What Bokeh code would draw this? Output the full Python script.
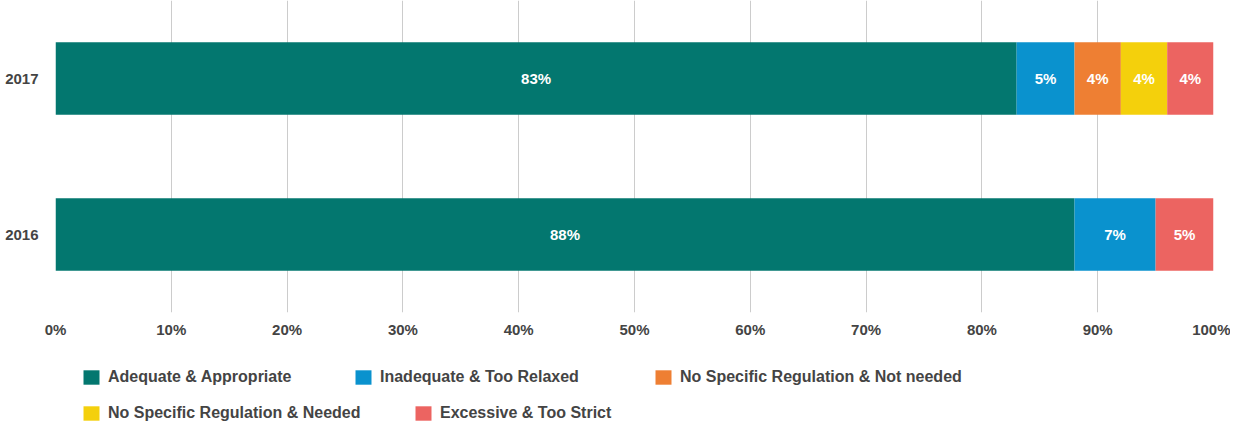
from bokeh.plotting import figure
from bokeh.layouts import column
from bokeh.models import (ColumnDataSource, FactorRange, Range1d, Legend, LegendItem,
                          FixedTicker, PrintfTickFormatter)
from bokeh.core.properties import value
from bokeh.embed import file_html
from bokeh.resources import INLINE

# ---- data ----
years = ["2016", "2017"]
series_names = ["Adequate & Appropriate", "Inadequate & Too Relaxed",
                "No Specific Regulation & Not needed", "No Specific Regulation & Needed",
                "Excessive & Too Strict"]
adequate = [88, 83]
inadequate = [7, 5]
not_needed = [0, 4]
needed = [0, 4]
excessive = [5, 4]
x_ticks = [0, 10, 20, 30, 40, 50, 60, 70, 80, 90, 100]

colors = ["#03776F", "#0A92CE", "#EE7F33", "#F4D00C", "#EC6461"]
keys = ["adequate", "inadequate", "not_needed", "needed", "excessive"]
FONT = "Liberation Sans"
GREY = "#444444"

src = ColumnDataSource(dict(year=years, adequate=adequate, inadequate=inadequate,
                            not_needed=not_needed, needed=needed, excessive=excessive))

# ---- main chart ----
p = figure(width=1230, height=340, output_backend="svg", toolbar_location=None,
           y_range=FactorRange(*years, range_padding=0), x_range=Range1d(0, 100),
           min_border_left=55, min_border_right=17, min_border_top=0, min_border_bottom=27)

renderers = p.hbar_stack(keys, y="year", height=0.465, color=colors, source=src, line_color=None)

vals = [adequate, inadequate, not_needed, needed, excessive]
lx, ly, lt = [], [], []
for i, yr in enumerate(years):
    left = 0
    for s in vals:
        v = s[i]
        if v > 0:
            lx.append(left + v / 2)
            ly.append(yr)
            lt.append(f"{v}%")
        left += v
p.text(x=lx, y=ly, text=lt, text_color="white", text_font=value(FONT),
       text_font_style="bold", text_font_size="15px", text_align="center",
       text_baseline="middle")

p.outline_line_color = None
p.ygrid.grid_line_color = None
p.xgrid.grid_line_color = "#cccccc"
p.xgrid.grid_line_width = 1
p.xaxis.ticker = FixedTicker(ticks=x_ticks)
p.xaxis.formatter = PrintfTickFormatter(format="%d%%")
for ax in (p.xaxis[0], p.yaxis[0]):
    ax.axis_line_color = None
    ax.major_tick_line_color = None
    ax.minor_tick_line_color = None
    ax.major_tick_out = 0
    ax.major_tick_in = 0
    ax.major_label_text_font = FONT
    ax.major_label_text_font_style = "bold"
    ax.major_label_text_font_size = "15px"
    ax.major_label_text_color = GREY
p.xaxis.major_label_standoff = 8
p.yaxis.major_label_standoff = 17

# ---- legend strip (same series, hidden renderers only supply the swatches) ----
lf = figure(width=1230, height=84, output_backend="svg", toolbar_location=None,
            y_range=FactorRange(*years), x_range=Range1d(0, 100),
            x_axis_location=None, y_axis_location=None,
            min_border_left=0, min_border_right=0, min_border_top=0, min_border_bottom=0)
lf.outline_line_color = None
lf.xgrid.visible = False
lf.ygrid.visible = False
lrs = lf.hbar_stack(keys, y="year", height=0.465, color=colors, source=src,
                    line_color=None, visible=False)

positions = [(26, 38), (298, 38), (598, 38), (26, 2), (358, 2)]
for r, name, loc in zip(lrs, series_names, positions):
    lg = Legend(items=[LegendItem(label=name, renderers=[r])], location=loc,
                orientation="horizontal", glyph_width=20, glyph_height=18,
                label_standoff=7, padding=0, margin=0, border_line_color=None,
                background_fill_alpha=0, inactive_fill_alpha=0,
                label_text_font=FONT, label_text_font_style="bold",
                label_text_font_size="16px", label_text_color=GREY, label_height=18)
    lf.add_layout(lg, "center")

layout = column(p, lf, spacing=0)
open("out.html", "w").write(file_html(layout, INLINE))
